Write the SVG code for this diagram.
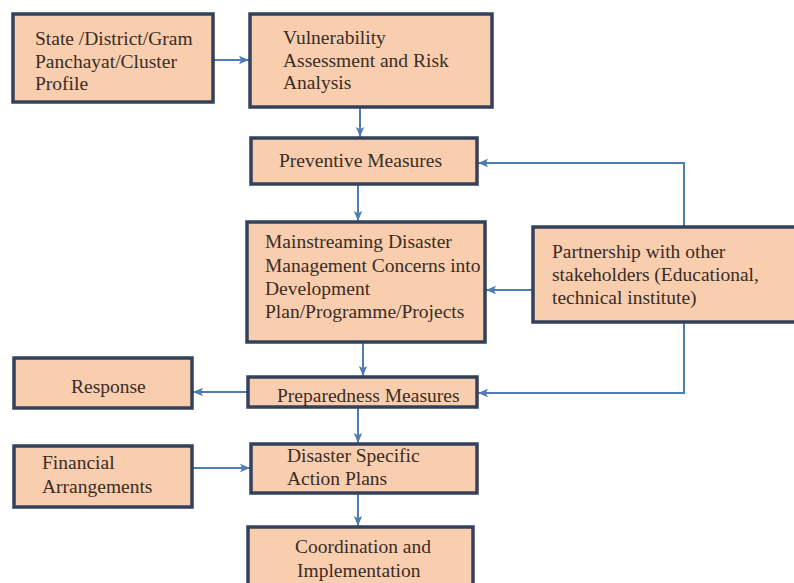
<svg xmlns="http://www.w3.org/2000/svg" width="794" height="583" viewBox="0 0 794 583">
  <style>
    .box rect { fill: #f9ceae; stroke: #33415c; stroke-width: 3.5; }
    .box text { font-family: "Liberation Serif", "Times New Roman", serif; font-size: 19.5px; fill: #3a2c26; }
    .link { fill: none; stroke: #4f7db3; stroke-width: 2; marker-end: url(#head); }
  </style>
  <defs>
    <marker id="head" markerUnits="userSpaceOnUse" markerWidth="10" markerHeight="10" viewBox="0 0 10 10" refX="10" refY="5" orient="auto">
      <path d="M0,0.8 L10,5 L0,9.2 L2.2,5 Z" fill="#4f7db3"/>
    </marker>
  </defs>
  <rect width="794" height="583" fill="#ffffff"/>

  <!-- connectors -->
  <g id="connectors">
    <path class="link" d="M213,60 H249"/>
    <path class="link" d="M360,107 V137"/>
    <path class="link" d="M358,184 V221"/>
    <path class="link" d="M363,342 V376"/>
    <path class="link" d="M248,392 H193"/>
    <path class="link" d="M358,407 V443"/>
    <path class="link" d="M192,468 H250"/>
    <path class="link" d="M358,493 V526"/>
    <path class="link" d="M684,227 V163 H478"/>
    <path class="link" d="M533,290 H486"/>
    <path class="link" d="M684,322 V393 H478"/>
  </g>

  <!-- nodes -->
  <g id="profile" class="box">
    <rect x="13" y="14" width="200" height="88"/>
    <text x="35" y="45">State /District/Gram</text>
    <text x="35" y="67.5">Panchayat/Cluster</text>
    <text x="35" y="90">Profile</text>
  </g>

  <g id="vulnerability" class="box">
    <rect x="250" y="14" width="242" height="93"/>
    <text x="283" y="44">Vulnerability</text>
    <text x="283" y="67">Assessment and Risk</text>
    <text x="283" y="89">Analysis</text>
  </g>

  <g id="preventive" class="box">
    <rect x="251" y="138" width="226" height="46"/>
    <text x="279" y="167">Preventive Measures</text>
  </g>

  <g id="mainstreaming" class="box">
    <rect x="247" y="222" width="238" height="120"/>
    <text x="265" y="248">Mainstreaming Disaster</text>
    <text x="265" y="272">Management Concerns into</text>
    <text x="265" y="295">Development</text>
    <text x="265" y="318">Plan/Programme/Projects</text>
  </g>

  <g id="partnership" class="box">
    <rect x="533" y="227" width="270" height="95"/>
    <text x="552" y="258">Partnership with other</text>
    <text x="552" y="281">stakeholders (Educational,</text>
    <text x="552" y="304">technical institute)</text>
  </g>

  <g id="response" class="box">
    <rect x="14" y="358" width="178" height="50"/>
    <text x="71" y="393">Response</text>
  </g>

  <g id="preparedness" class="box">
    <rect x="248" y="377" width="229" height="30"/>
    <text x="277" y="402">Preparedness Measures</text>
  </g>

  <g id="financial" class="box">
    <rect x="14" y="446" width="178" height="61"/>
    <text x="42" y="469">Financial</text>
    <text x="42" y="493">Arrangements</text>
  </g>

  <g id="action-plans" class="box">
    <rect x="251" y="444" width="226" height="49"/>
    <text x="287" y="462">Disaster Specific</text>
    <text x="287" y="485">Action Plans</text>
  </g>

  <g id="coordination" class="box">
    <rect x="248" y="527" width="225" height="70"/>
    <text x="295" y="553">Coordination and</text>
    <text x="297" y="577">Implementation</text>
  </g>
</svg>
